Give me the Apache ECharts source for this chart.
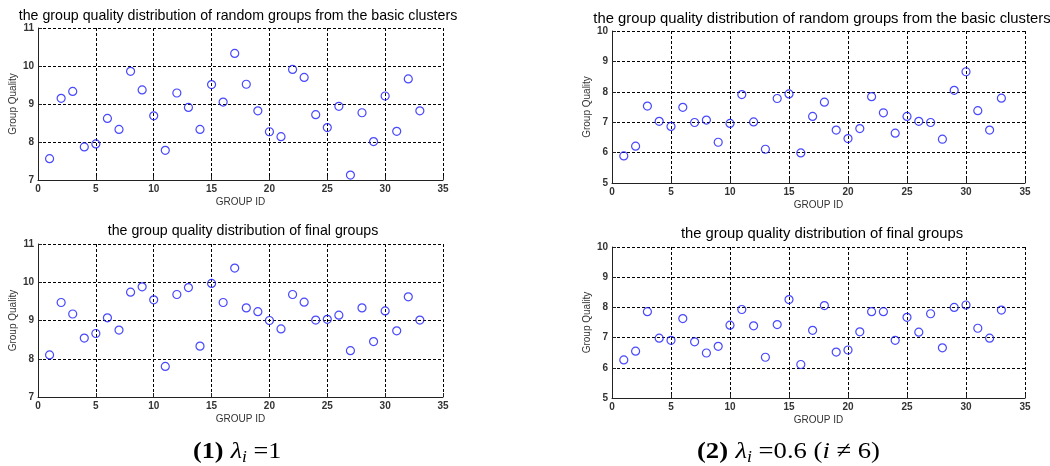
<!DOCTYPE html>
<html>
<head>
<meta charset="utf-8">
<script src="https://cdn.jsdelivr.net/npm/echarts@6/dist/echarts.min.js"></script>
<style>html,body{margin:0;padding:0;background:#fff;}#c{width:1050px;height:466px;}</style>
</head>
<body>
<div id="c"></div>
<script>
// Group IDs 1..33
const groupIds = [1,2,3,4,5,6,7,8,9,10,11,12,13,14,15,16,17,18,19,20,21,22,23,24,25,26,27,28,29,30,31,32,33];
// (1) lambda_i = 1 : random groups from the basic clusters
const randomGroups1 = [7.56,9.15,9.33,7.87,7.95,8.62,8.33,9.86,9.37,8.69,7.78,9.29,8.91,8.33,9.51,9.05,10.33,9.52,8.82,8.27,8.14,9.91,9.70,8.72,8.38,8.94,7.13,8.77,8.01,9.21,8.28,9.66,8.82];
// (1) lambda_i = 1 : final groups
const finalGroups1 = [8.10,9.47,9.17,8.54,8.66,9.07,8.75,9.74,9.88,9.54,7.80,9.68,9.86,8.33,9.97,9.47,10.37,9.33,9.23,9.00,8.78,9.68,9.48,9.01,9.03,9.14,8.21,9.33,8.45,9.25,8.73,9.62,9.01];
// (2) lambda_i = 0.6 : random groups from the basic clusters
const randomGroups2 = [5.89,6.21,7.53,7.03,6.86,7.49,6.99,7.07,6.34,6.96,7.91,7.01,6.11,7.78,7.93,5.99,7.19,7.66,6.74,6.46,6.79,7.84,7.31,6.64,7.19,7.03,6.99,6.44,8.05,8.66,7.38,6.74,7.79];
// (2) lambda_i = 0.6 : final groups
const finalGroups2 = [6.26,6.55,7.86,6.98,6.91,7.63,6.86,6.49,6.71,7.41,7.93,7.39,6.35,7.43,8.26,6.11,7.24,8.06,6.52,6.59,7.19,7.86,7.86,6.91,7.67,7.18,7.79,6.66,8.00,8.08,7.31,6.98,7.91];

const titleRandom = 'the group quality distribution of random groups from the basic clusters';
const titleFinal = 'the group quality distribution of final groups';
const xName = 'GROUP ID';
const yName = 'Group Quality';

const panels = [
  {data: randomGroups1, title: titleRandom, ymin: 7, ymax: 11, grid: {left: 38, top: 28, width: 405, height: 152}, tx: 233, ty: 4, tsize: 14.2},
  {data: finalGroups1, title: titleFinal, ymin: 7, ymax: 11, grid: {left: 38, top: 244, width: 405, height: 153}, tx: 238, ty: 219, tsize: 14.2},
  {data: randomGroups2, title: titleRandom, ymin: 5, ymax: 10, grid: {left: 612, top: 31, width: 413, height: 152}, tx: 817, ty: 6, tsize: 14.8},
  {data: finalGroups2, title: titleFinal, ymin: 5, ymax: 10, grid: {left: 612, top: 247, width: 413, height: 151}, tx: 817, ty: 221, tsize: 14.8}
];

const font = 'Arial, "Liberation Sans", Helvetica, sans-serif';
const serif = '"Liberation Serif", "Times New Roman", serif';
const gridLine = {show: true, lineStyle: {color: '#000', width: 1, type: [3, 2]}};

const capRich = {
  b: {fontFamily: serif, fontSize: 24, fontWeight: 'bold', fill: '#000'},
  l: {fontFamily: serif, fontSize: 24, fontStyle: 'italic', fill: '#000'},
  s: {fontFamily: serif, fontSize: 16, fontStyle: 'italic', fill: '#000', padding: [12, 0, 0, 0]},
  n: {fontFamily: serif, fontSize: 24, fill: '#000'}
};

const option = {
  animation: false,
  backgroundColor: '#fff',
  title: panels.map(p => ({
    text: p.title, left: p.tx, top: p.ty, textAlign: 'center',
    textStyle: {fontFamily: font, fontSize: p.tsize, fontWeight: 'normal', color: '#000'}
  })),
  grid: panels.map(p => Object.assign({}, p.grid)),
  xAxis: panels.map((p, i) => ({
    type: 'value', gridIndex: i, min: 0, max: 35, interval: 5,
    name: xName, nameLocation: 'middle', nameGap: 17,
    nameTextStyle: {fontFamily: font, fontSize: 10, color: '#333'},
    axisLine: {show: true, onZero: false, lineStyle: {color: '#222', width: 1}},
    axisTick: {show: true, inside: true, length: 4, lineStyle: {color: '#222'}},
    axisLabel: {fontFamily: font, fontSize: 10, color: '#333', margin: 4, fontWeight: 'bold'},
    splitLine: gridLine
  })),
  yAxis: panels.map((p, i) => ({
    type: 'value', gridIndex: i, min: p.ymin, max: p.ymax, interval: 1,
    name: yName, nameLocation: 'middle', nameGap: 20,
    nameTextStyle: {fontFamily: font, fontSize: 10, color: '#333'},
    axisLine: {show: true, onZero: false, lineStyle: {color: '#222', width: 1}},
    axisTick: {show: true, inside: true, length: 4, lineStyle: {color: '#222'}},
    axisLabel: {fontFamily: font, fontSize: 10, color: '#333', margin: 4, fontWeight: 'bold'},
    splitLine: gridLine
  })),
  series: panels.map((p, i) => ({
    type: 'scatter', xAxisIndex: i, yAxisIndex: i,
    symbol: 'circle', symbolSize: 8,
    itemStyle: {color: 'transparent', borderColor: '#1a1aff', borderWidth: 1.2},
    data: groupIds.map((g, k) => [g, p.data[k]])
  })),
  graphic: [
    {
      type: 'text', x: 193, y: 438, scaleX: 1.09,
      style: {text: '{b|(1)}  {l|λ}{s|i}{n| =1}', rich: capRich}
    },
    {
      type: 'text', x: 697, y: 438, scaleX: 1.11,
      style: {text: '{b|(2)}  {l|λ}{s|i}{n| =0.6 (}{l|i}{n| ≠ 6)}', rich: capRich}
    }
  ]
};

const chart = echarts.init(document.getElementById('c'), null, {renderer: 'canvas'});
chart.setOption(option);
</script>
</body>
</html>
